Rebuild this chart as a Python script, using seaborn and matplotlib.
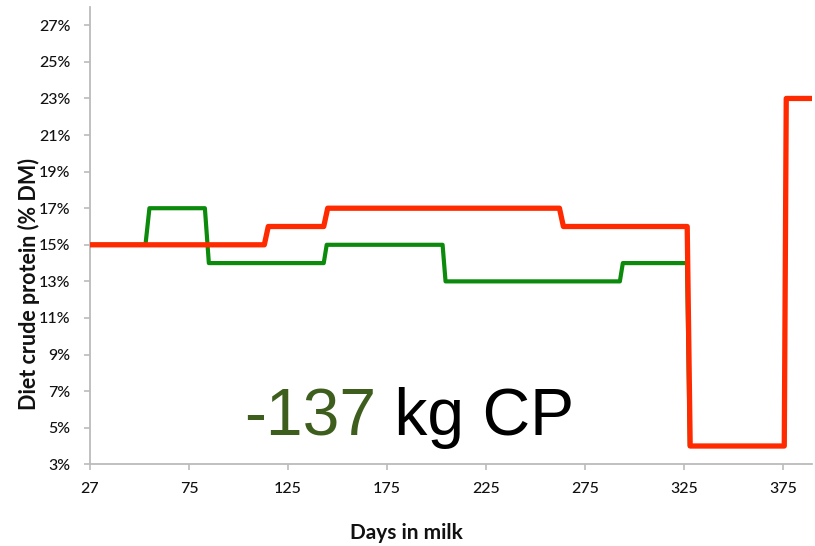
import matplotlib
matplotlib.use("Agg")
import matplotlib.pyplot as plt
import seaborn as sns
import numpy as np
import pandas as pd
from matplotlib.ticker import FuncFormatter

# ---- data (days in milk, diet crude protein % DM) ----
red_days = [25, 113, 115, 143, 145, 262, 264, 326.5, 328, 375.5, 376.5, 390]
red_cp = [15, 15, 16, 16, 17, 17, 16, 16, 4, 4, 23, 23]

green_days = [25, 53, 55, 83, 85, 143, 144.5, 203, 204.5, 292.5, 294, 326.4, 327.8]
green_cp = [15, 15, 17, 17, 14, 14, 15, 15, 13, 13, 14, 14, 4]

x_ticks = [25, 75, 125, 175, 225, 275, 325, 375]
x_tick_labels = ["27", "75", "125", "175", "225", "275", "325", "375"]
y_ticks = [3, 5, 7, 9, 11, 13, 15, 17, 19, 21, 23, 25, 27]

annot_value = "-137"
annot_unit = " kg CP"

red_df = pd.DataFrame({"day": red_days, "cp": red_cp})
green_df = pd.DataFrame({"day": green_days, "cp": green_cp})

sns.set_theme(style="white")
plt.rcParams["font.family"] = ["Lato", "DejaVu Sans"]

fig = plt.figure(figsize=(8.15, 5.46), dpi=100)
ax = fig.add_axes([90 / 815, 1 - 464.3 / 546, (812 - 90) / 815, (464.3 - 7) / 546])

sns.lineplot(data=green_df, x="day", y="cp", ax=ax, color="#0B8A0B", lw=3.0,
             sort=False, estimator=None, solid_joinstyle="round", zorder=2)
sns.lineplot(data=red_df, x="day", y="cp", ax=ax, color="#FF2A00", lw=3.8,
             sort=False, estimator=None, solid_joinstyle="round", zorder=3)

ax.set_xlim(25, 389.5)
ax.set_ylim(3, 28)
ax.set_xticks(x_ticks)
ax.set_xticklabels(x_tick_labels)
ax.set_yticks(y_ticks)
ax.yaxis.set_major_formatter(FuncFormatter(lambda v, p: f"{v:.0f}%"))

for s in ["top", "right"]:
    ax.spines[s].set_visible(False)
for s in ["left", "bottom"]:
    ax.spines[s].set_color("#BBBBBB")
    ax.spines[s].set_linewidth(1.3)

ax.tick_params(axis="both", which="major", length=4, width=1.2, color="#BBBBBB",
               labelsize=11.5, labelcolor="#111111")
ax.tick_params(axis="x", direction="out", bottom=True, pad=9)
ax.tick_params(axis="y", direction="out", left=True, pad=10)
for lab in ax.get_xticklabels() + ax.get_yticklabels():
    lab.set_fontweight("medium")

ax.set_xlabel("Days in milk", fontsize=15, fontweight="bold", color="#111111")
ax.set_ylabel("Diet crude protein (% DM)", fontsize=15.5, fontweight="bold", color="#111111")
ax.xaxis.set_label_coords((406 - 90) / 722, -(533 - 464.3) / 457.3)
ax.yaxis.set_label_coords(-(90 - 29) / 722, (464.3 - 284) / 457.3)
ax.xaxis.label.set_va("center")
ax.yaxis.label.set_va("center")

t1 = fig.text(244 / 815, 1 - 435 / 546, annot_value, fontsize=47.5, color="#3E5E1E",
              family=["Liberation Sans", "DejaVu Sans"], va="baseline", ha="left")
ax.annotate(annot_unit, xy=(1, 0), xycoords=t1, fontsize=47.5, color="black",
            family=["Liberation Sans", "DejaVu Sans"], va="bottom", ha="left")

fig.savefig("out.png", dpi=100)
